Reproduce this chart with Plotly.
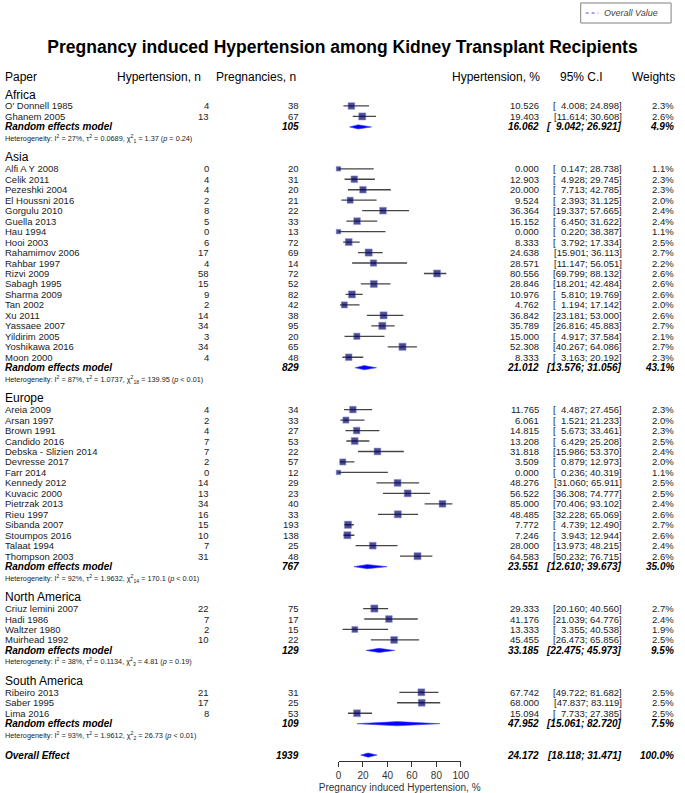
import math
import plotly.graph_objects as go

W, H = 685, 793

# ---------------- data ----------------
region_names = ["Africa", "Asia", "Europe", "North America", "South America"]
region_sizes = [2, 19, 15, 4, 3]

study_names = [
    "O' Donnell 1985", "Ghanem 2005",
    "Alfi A Y 2008", "Celik 2011", "Pezeshki 2004", "El Houssni 2016", "Gorgulu 2010",
    "Guella 2013", "Hau 1994", "Hooi 2003", "Rahamimov 2006", "Rahbar 1997", "Rizvi 2009",
    "Sabagh 1995", "Sharma 2009", "Tan 2002", "Xu 2011", "Yassaee 2007", "Yildirim 2005",
    "Yoshikawa 2016", "Moon 2000",
    "Areia 2009", "Arsan 1997", "Brown 1991", "Candido 2016", "Debska - Slizien 2014",
    "Devresse 2017", "Farr 2014", "Kennedy 2012", "Kuvacic 2000", "Pietrzak 2013",
    "Rieu 1997", "Sibanda 2007", "Stoumpos 2016", "Talaat 1994", "Thompson 2003",
    "Criuz lemini 2007", "Hadi 1986", "Waltzer 1980", "Muirhead 1992",
    "Ribeiro 2013", "Saber 1995", "Lima 2016",
]
hyp_n = [4, 13,
         0, 4, 4, 2, 8, 5, 0, 6, 17, 4, 58, 15, 9, 2, 14, 34, 3, 34, 4,
         4, 2, 4, 7, 7, 2, 0, 14, 13, 34, 16, 15, 10, 7, 31,
         22, 7, 2, 10,
         21, 17, 8]
preg_n = [38, 67,
          20, 31, 20, 21, 22, 33, 13, 72, 69, 14, 72, 52, 82, 42, 38, 95, 20, 65, 48,
          34, 33, 27, 53, 22, 57, 12, 29, 23, 40, 33, 193, 138, 25, 48,
          75, 17, 15, 22,
          31, 25, 53]
hyp_pct = [10.526, 19.403,
           0.000, 12.903, 20.000, 9.524, 36.364, 15.152, 0.000, 8.333, 24.638, 28.571,
           80.556, 28.846, 10.976, 4.762, 36.842, 35.789, 15.000, 52.308, 8.333,
           11.765, 6.061, 14.815, 13.208, 31.818, 3.509, 0.000, 48.276, 56.522, 85.000,
           48.485, 7.772, 7.246, 28.000, 64.583,
           29.333, 41.176, 13.333, 45.455,
           67.742, 68.000, 15.094]
ci_low = [4.008, 11.614,
          0.147, 4.928, 7.713, 2.393, 19.337, 6.450, 0.220, 3.792, 15.901, 11.147,
          69.799, 18.201, 5.810, 1.194, 23.181, 26.816, 4.917, 40.267, 3.163,
          4.487, 1.521, 5.673, 6.429, 15.986, 0.879, 0.236, 31.060, 36.308, 70.406,
          32.228, 4.739, 3.943, 13.973, 50.232,
          20.160, 21.039, 3.355, 26.473,
          49.722, 47.837, 7.733]
ci_high = [24.898, 30.608,
           28.738, 29.745, 42.785, 31.125, 57.665, 31.622, 38.387, 17.334, 36.113, 56.051,
           88.132, 42.484, 19.769, 17.142, 53.000, 45.883, 37.584, 64.086, 20.192,
           27.456, 21.233, 33.461, 25.208, 53.370, 12.973, 40.319, 65.911, 74.777, 93.102,
           65.069, 12.490, 12.944, 48.215, 76.715,
           40.560, 64.776, 40.538, 65.856,
           81.682, 83.119, 27.385]
weights = [2.3, 2.6,
           1.1, 2.3, 2.3, 2.0, 2.4, 2.4, 1.1, 2.5, 2.7, 2.2, 2.6, 2.6, 2.6, 2.0, 2.6, 2.7,
           2.1, 2.7, 2.3,
           2.3, 2.0, 2.3, 2.5, 2.4, 2.0, 1.1, 2.5, 2.5, 2.4, 2.6, 2.7, 2.6, 2.4, 2.6,
           2.7, 2.4, 1.9, 2.5,
           2.5, 2.5, 2.5]

sub_total = [105, 829, 767, 129, 109]
sub_est = [16.062, 21.012, 23.551, 33.185, 47.952]
sub_low = [9.042, 13.576, 12.610, 22.475, 15.061]
sub_high = [26.921, 31.056, 39.673, 45.973, 82.720]
sub_weight = [4.9, 43.1, 35.0, 9.5, 7.5]
sub_i2 = ["27", "87", "92", "38", "93"]
sub_tau2 = ["0.0689", "1.0737", "1.9632", "0.1134", "1.9612"]
sub_df = ["1", "18", "14", "3", "2"]
sub_chi2 = ["1.37", "139.95", "170.1", "4.81", "26.73"]
sub_p = ["= 0.24", "< 0.01", "< 0.01", "= 0.19", "< 0.01"]

overall_total = 1939
overall_est = 24.172
overall_low = 18.118
overall_high = 31.471
overall_weight = 100.0
overall_het = ["88", "1.2232", "42", "363.16", "< 0.01"]

axis_ticks = [0, 20, 40, 60, 80, 100]
legend_label = "Overall Value"

# ---------------- layout helpers ----------------
FONT = "Liberation Sans, Arial, Helvetica, sans-serif"
Y0 = 95.5      # pixel y of first row (region label)
DY = 10.47     # row pitch in px
AX_LEFT, AX_RIGHT = 341.5, 466.0   # pixel extent of 0..100
AXIS_Y = 761

X_NAME, X_HYP, X_PREG, X_PCT, X_CI, X_W = 2, 210, 301, 546, 630, 683

def row_y(i):
    return Y0 + i * DY

annotations = []
shapes = []

def txt(x, y, s, anchor="left", size=9.5, color="#222222"):
    annotations.append(dict(
        x=x / W, y=y, xref="paper", yref="y", text=s, showarrow=False,
        xanchor=anchor, yanchor="middle", borderpad=0, borderwidth=0,
        font=dict(family=FONT, size=size, color=color)))

def het_text(i2, tau2, df, chi2, p):
    return (f"Heterogeneity: I<sup>2</sup> = {i2}%, τ<sup>2</sup> = {tau2}, "
            f"χ<sup>2</sup><sub>{df}</sub> = {chi2} (<i>p</i> {p})")

def ci_text(lo, hi):
    return f"[{lo:6.3f}; {hi:6.3f}]".replace(" ", "\u2007").replace(";\u2007", "; ")

# headers
HEADER_Y = 77
txt(2, HEADER_Y, "Paper", "left", 12, "black")
txt(202, HEADER_Y, "Hypertension, n", "right", 12, "black")
txt(298, HEADER_Y, "Pregnancies, n", "right", 12, "black")
txt(547, HEADER_Y, "Hypertension, %", "right", 12, "black")
txt(589, HEADER_Y, "95% C.I", "center", 12, "black")
txt(684, HEADER_Y, "Weights", "right", 12, "black")

ci_x, ci_y = [], []
sq_x, sq_y, sq_s = [], [], []
dia_x, dia_y = [], []

def diamond(y, lo, est, hi, h=2.1):
    dia_x.extend([lo, est, hi, est, lo, None])
    dia_y.extend([y, y - h, y, y + h, y, None])

row = 0
k = 0
for g, name in enumerate(region_names):
    txt(X_NAME, row_y(row) - 1, name, "left", 12, "black")
    row += 1
    for _ in range(region_sizes[g]):
        y = row_y(row)
        txt(X_NAME, y, study_names[k])
        txt(X_HYP, y, str(hyp_n[k]), "right")
        txt(X_PREG, y, str(preg_n[k]), "right")
        txt(X_PCT, y, f"{hyp_pct[k]:.3f}", "right")
        txt(X_CI, y, ci_text(ci_low[k], ci_high[k]), "right")
        txt(X_W, y, f"{weights[k]:.1f}%", "right")
        ci_x.extend([ci_low[k], ci_high[k], None])
        ci_y.extend([y, y, None])
        sq_x.append(hyp_pct[k])
        sq_y.append(y)
        sq_s.append(4.4 * math.sqrt(weights[k]))
        k += 1
        row += 1
    y = row_y(row)
    txt(X_NAME, y, "<b><i>Random effects model</i></b>", "left", 10, "black")
    txt(X_PREG, y, f"<b><i>{sub_total[g]}</i></b>", "right", 10, "black")
    txt(X_PCT, y, f"<b><i>{sub_est[g]:.3f}</i></b>", "right", 10, "black")
    txt(X_CI, y, f"<b><i>{ci_text(sub_low[g], sub_high[g])}</i></b>", "right", 10, "black")
    txt(X_W, y, f"<b><i>{sub_weight[g]:.1f}%</i></b>", "right", 10, "black")
    diamond(y, sub_low[g], sub_est[g], sub_high[g])
    row += 1
    txt(X_NAME, row_y(row) + 1, het_text(sub_i2[g], sub_tau2[g], sub_df[g], sub_chi2[g], sub_p[g]),
        "left", 7.3, "#222222")
    row += 2

# overall
y = row_y(row)
txt(X_NAME, y, "<b><i>Overall Effect</i></b>", "left", 10, "black")
txt(X_PREG, y, f"<b><i>{overall_total}</i></b>", "right", 10, "black")
txt(X_PCT, y, f"<b><i>{overall_est:.3f}</i></b>", "right", 10, "black")
txt(X_CI, y, f"<b><i>{ci_text(overall_low, overall_high)}</i></b>", "right", 10, "black")
txt(X_W, y, f"<b><i>{overall_weight:.1f}%</i></b>", "right", 10, "black")
diamond(y, overall_low, overall_est, overall_high)
row += 1
txt(X_NAME, row_y(row) + 1, het_text(*overall_het), "left", 7.3, "#222222")

# legend box (drawn as shapes + text)
shapes.append(dict(type="rect", xref="paper", yref="y", x0=588 / W, x1=680 / W, y0=3, y1=23,
                   line=dict(color="#808080", width=1), fillcolor="white"))
shapes.append(dict(type="line", xref="paper", yref="y", x0=593 / W, x1=606 / W, y0=13, y1=13,
                   line=dict(color="#4a4aff", width=1, dash="dot")))
txt(612, 13, f"<i>{legend_label}</i>", "left", 9, "#444444")

# ---------------- traces ----------------
fig = go.Figure()
fig.add_trace(go.Scatter(
    x=ci_x, y=ci_y, mode="lines", line=dict(color="#444444", width=1.3),
    hoverinfo="skip", showlegend=False, cliponaxis=False))
fig.add_trace(go.Scatter(
    x=sq_x, y=sq_y, mode="markers",
    marker=dict(symbol="square", size=sq_s, color="#000066",
                line=dict(color="#6a6abf", width=0.5)),
    showlegend=False, cliponaxis=False))
fig.add_trace(go.Scatter(
    x=dia_x, y=dia_y, mode="lines", fill="toself", fillcolor="#0000ff",
    line=dict(color="#4040ff", width=0.6), showlegend=False, cliponaxis=False,
    hoverinfo="skip"))

fig.update_layout(
    width=W, height=H,
    margin=dict(l=0, r=0, t=0, b=H - AXIS_Y, pad=0),
    paper_bgcolor="white", plot_bgcolor="white",
    title=dict(text="<b>Pregnancy induced Hypertension among Kidney Transplant Recipients</b>",
               x=0.5, xanchor="center", y=1 - 47 / H, yanchor="middle",
               font=dict(family=FONT, size=17.5, color="black")),
    xaxis=dict(domain=[AX_LEFT / W, AX_RIGHT / W], range=[0, 100],
               tickvals=axis_ticks, ticktext=[str(t) for t in axis_ticks],
               showline=True, linecolor="#333333", linewidth=1,
               ticks="outside", ticklen=5, tickcolor="#333333", tickwidth=1,
               showgrid=False, zeroline=False,
               tickfont=dict(family=FONT, size=10, color="#333333"),
               title=dict(text="Pregnancy induced Hypertension, %", standoff=3,
                          font=dict(family=FONT, size=10, color="#333333"))),
    yaxis=dict(range=[AXIS_Y, 0], visible=False, fixedrange=True),
    showlegend=False,
    annotations=annotations,
    shapes=shapes,
)

fig.write_html("out.html", config={"displayModeBar": False},
               post_script="document.body.style.margin='0px';document.body.style.overflow='hidden';")
